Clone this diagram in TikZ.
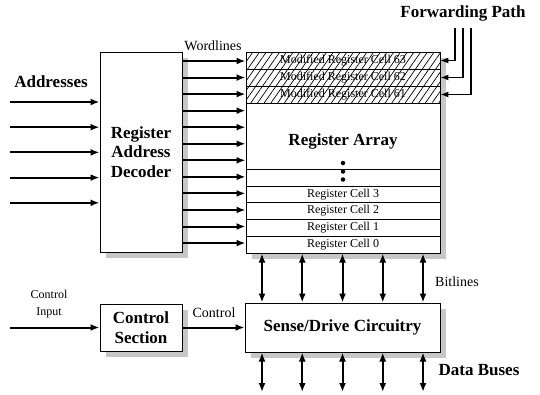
\documentclass[tikz,border=0pt]{standalone}
\usepackage{fontspec}
\setmainfont{Liberation Serif}
\usetikzlibrary{arrows.meta,patterns.meta,shadows,calc}
\begin{document}
\begin{tikzpicture}[x=1pt,y=-1pt,
  box/.style={draw, line width=1pt, fill=white, inner sep=0pt},
  shd/.style={drop shadow={shadow xshift=6pt, shadow yshift=-6pt, fill=black!22, opacity=1}},
  big/.style={font=\fontsize{17}{19.5}\selectfont\bfseries},
  mid/.style={font=\fontsize{14}{16}\selectfont},
  small/.style={font=\fontsize{12}{17}\selectfont},
  arw/.style={line width=2pt, -{Latex[length=9pt,width=7pt]}},
  darw/.style={line width=2pt, {Latex[length=9pt,width=7pt]}-{Latex[length=9pt,width=7pt]}},
  fwd/.style={line width=1.3pt, -{Latex[length=8pt,width=6pt]}},
  cell/.style={draw, line width=0.8pt, minimum width=194pt, inner sep=0pt, font=\fontsize{12}{14}\selectfont},
  hcell/.style={cell, pattern={Lines[angle=55,distance=5.5pt,line width=0.7pt]}},
  dot/.style={circle, fill, inner sep=0pt, minimum size=4.5pt}
]
\useasboundingbox (0,0) rectangle (540,394);

% boxes
\node[box,shd,big,align=center,minimum width=82pt,minimum height=200pt] (dec) at (141,152) {Register\\Address\\Decoder};
\node[box,shd,minimum width=194pt,minimum height=201pt] (arr) at (343,152.5) {};
\node[box,shd,big,align=center,minimum width=82pt,minimum height=47pt] (cs) at (141,327.5) {Control\\Section};
\node[box,shd,big,minimum width=195pt,minimum height=49pt] (sd) at (342.5,327.5) {Sense/Drive Circuitry};

% register array rows
\node[hcell, minimum height=17pt] (m63) at (343,60.5) {Modified Register Cell 63};
\node[hcell, minimum height=17pt] (m62) at (343,77.5) {Modified Register Cell 62};
\node[hcell, minimum height=17pt] (m61) at (343,94.5) {Modified Register Cell 61};
\node[big] (ral) at (343,141) {Register Array};
\node[cell, minimum height=17pt] (dotrow) at (343,177.5) {};
\node[cell, minimum height=16.75pt] (c3) at (343,194.4) {Register Cell 3};
\node[cell, minimum height=16.75pt] (c2) at (343,211.1) {Register Cell 2};
\node[cell, minimum height=16.75pt] (c1) at (343,227.9) {Register Cell 1};
\node[cell, minimum height=16.75pt] (c0) at (343,244.6) {Register Cell 0};
\node[dot] (d1) at (343,163) {};
\node[dot] (d2) at (343,171.5) {};
\node[dot] (d3) at (343,179.5) {};

% labels
\node[big] (lfp) at (463,13) {Forwarding Path};
\node[mid] (lwl) at (213,46) {Wordlines};
\node[big] (lad) at (51,82) {Addresses};
\node[mid] (lbl) at (457,282) {Bitlines};
\node[small,align=center] (lci) at (49,304) {Control\\Input};
\node[mid] (lct) at (214,313) {Control};
\node[big] (ldb) at (479,370) {Data Buses};

% wordlines
\foreach \i in {0,...,11}{
  \pgfmathsetmacro\yy{61+16.55*\i}
  \coordinate (w\i) at (0,\yy);
  \draw[arw] (dec.east |- w\i) -- (arr.west |- w\i);
}
% addresses
\foreach \i in {0,...,4}{
  \pgfmathsetmacro\yy{102+25.2*\i}
  \coordinate (a\i) at (10,\yy);
  \draw[arw] (a\i) -- (dec.west |- a\i);
}
% forwarding path
\coordinate (f1) at (455,28);
\coordinate (f2) at (463,28);
\coordinate (f3) at (471,28);
\draw[fwd] (f1) |- (m63.east);
\draw[fwd] (f2) |- (m62.east);
\draw[fwd] (f3) |- (m61.east);

% bitlines and data buses
\foreach \i in {0,...,4}{
  \pgfmathsetmacro\xx{262+40.25*\i}
  \coordinate (b\i) at (\xx,0);
  \coordinate (e\i) at (\xx,392);
  \draw[darw] (arr.south -| b\i) -- (sd.north -| b\i);
  \draw[darw] (sd.south -| b\i) -- (e\i);
}

% control
\coordinate (ci) at (10,327.5);
\draw[arw] (ci) -- (cs.west);
\draw[arw] (cs.east) -- (sd.west);
\end{tikzpicture}
\end{document}
